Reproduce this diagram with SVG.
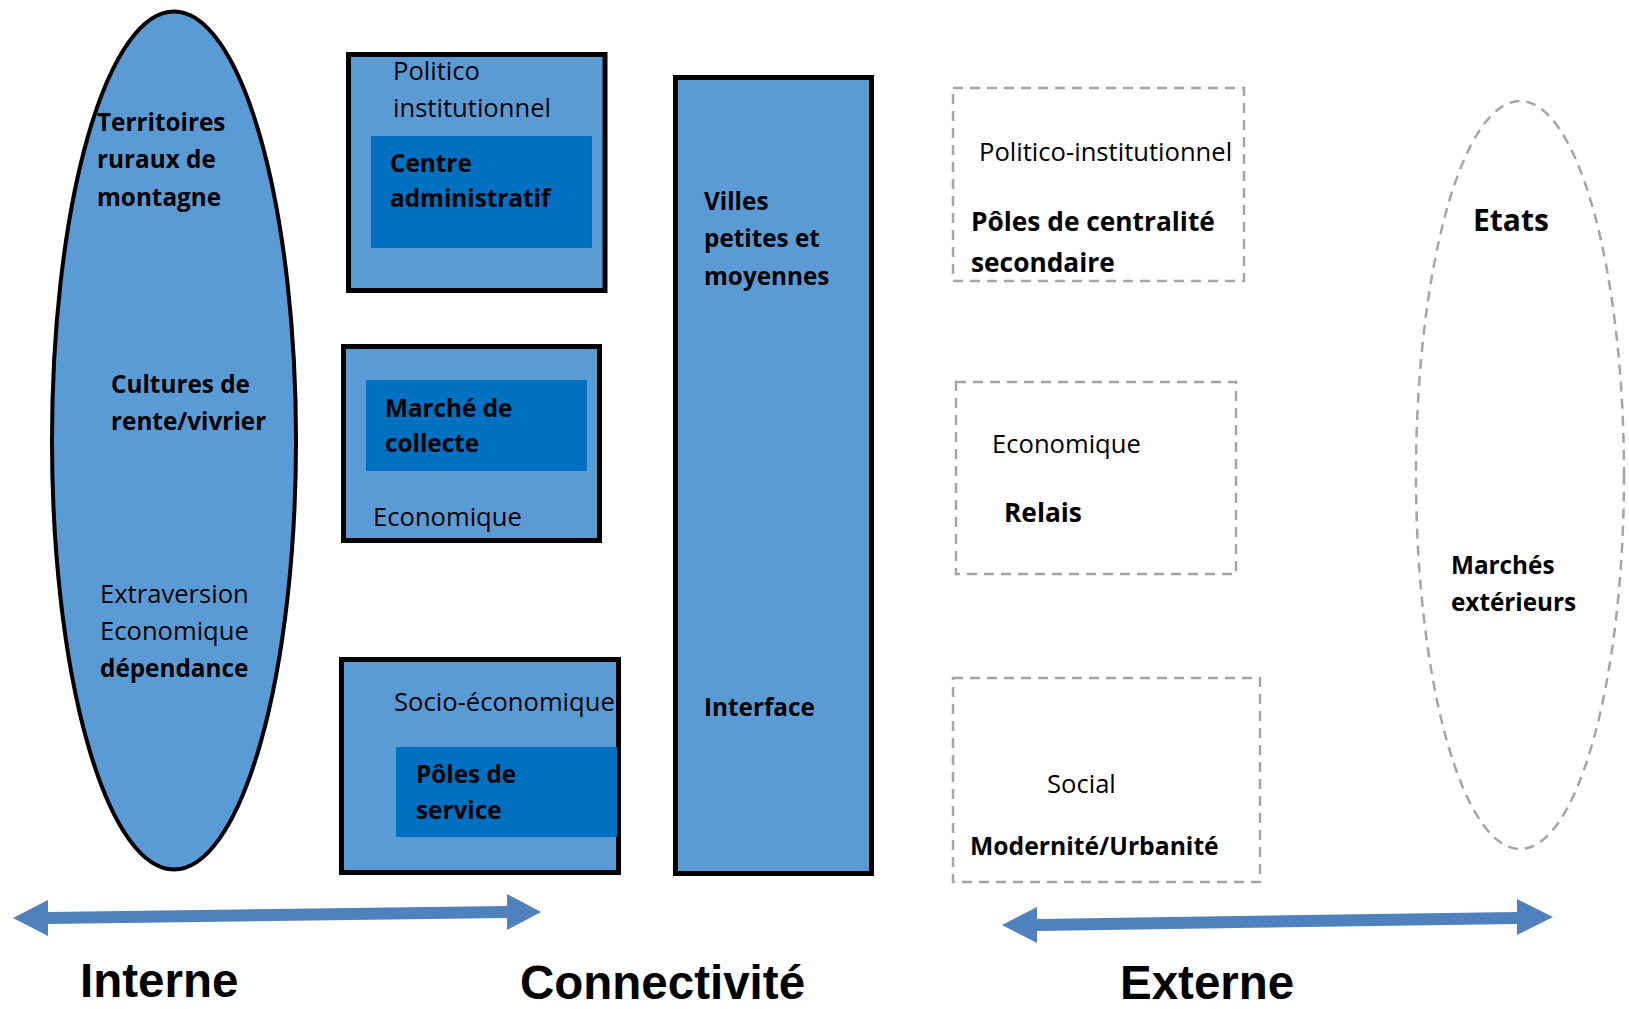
<svg xmlns="http://www.w3.org/2000/svg" width="1629" height="1009" viewBox="0 0 1629 1009">
<style>
.bg{fill:#ffffff}
.node{fill:#5B9BD5;stroke:#000000;stroke-width:5}
.ell{fill:#5B9BD5;stroke:#000000;stroke-width:4}
.inner{fill:#0070C0;stroke:none}
.dash{fill:none;stroke:#A5A5A5;stroke-width:2.5;stroke-dasharray:10 7}
.arrow{fill:#4F81BD;stroke:none}
.r{font-family:"Open Sans","Noto Sans",sans-serif;font-size:25.6px;fill:#000}
.b{font-family:"Open Sans","Noto Sans",sans-serif;font-size:24.3px;font-weight:bold;fill:#000}
.big{font-family:"Liberation Sans",Arial,sans-serif;font-size:47.5px;font-weight:bold;fill:#000}
</style>
<rect class="bg" x="0" y="0" width="1629" height="1009"/>

<g id="interne-ellipse">
<ellipse class="ell" cx="174" cy="440.5" rx="122" ry="429"/>
<text class="b" x="97" y="131">Territoires</text>
<text class="b" x="97" y="168">ruraux de</text>
<text class="b" x="97" y="206">montagne</text>
<text class="b" x="111" y="393">Cultures de</text>
<text class="b" x="111" y="430">rente/vivrier</text>
<text class="r" x="100" y="603">Extraversion</text>
<text class="r" x="100" y="640">Economique</text>
<text class="b" x="100" y="677">dépendance</text>
</g>

<g id="box-politico">
<rect class="node" x="348.5" y="54.5" width="256.5" height="236"/>
<rect class="inner" x="371" y="136" width="221" height="112"/>
<text class="r" x="393" y="80">Politico</text>
<text class="r" x="393" y="117">institutionnel</text>
<text class="b" x="390" y="172">Centre</text>
<text class="b" x="390" y="207">administratif</text>
</g>

<g id="box-economique">
<rect class="node" x="343.5" y="346.5" width="256" height="194"/>
<rect class="inner" x="366" y="380" width="221" height="91"/>
<text class="b" x="385" y="417">Marché de</text>
<text class="b" x="385" y="452">collecte</text>
<text class="r" x="373" y="526">Economique</text>
</g>

<g id="box-socio">
<rect class="node" x="341.5" y="659.5" width="277" height="213"/>
<rect class="inner" x="396" y="747" width="221" height="90"/>
<text class="r" x="394" y="711">Socio-économique</text>
<text class="b" x="416" y="783">Pôles de</text>
<text class="b" x="416" y="819">service</text>
</g>

<g id="box-villes">
<rect class="node" x="675.5" y="77.5" width="196" height="796"/>
<text class="b" x="704" y="210">Villes</text>
<text class="b" x="704" y="247">petites et</text>
<text class="b" x="704" y="285">moyennes</text>
<text class="b" x="704" y="716">Interface</text>
</g>

<g id="ext-politico">
<rect class="dash" x="953" y="88" width="291" height="193"/>
<text class="r" x="979" y="161">Politico-institutionnel</text>
<text class="b" x="971" y="231" style="font-size:26.3px">Pôles de centralité</text>
<text class="b" x="971" y="272" style="font-size:26.3px">secondaire</text>
</g>

<g id="ext-economique">
<rect class="dash" x="956" y="382" width="280" height="192"/>
<text class="r" x="992" y="453">Economique</text>
<text class="b" x="1004" y="522" style="font-size:26.3px">Relais</text>
</g>

<g id="ext-social">
<rect class="dash" x="953" y="678" width="307" height="204"/>
<text class="r" x="1047" y="793">Social</text>
<text class="b" x="970" y="855" style="font-size:24.7px">Modernité/Urbanité</text>
</g>

<g id="ext-ellipse">
<ellipse class="dash" cx="1520" cy="475" rx="104" ry="374"/>
<text class="b" x="1473" y="231" style="font-size:30px">Etats</text>
<text class="b" x="1451" y="574">Marchés</text>
<text class="b" x="1451" y="611">extérieurs</text>
</g>

<g id="connectors">
<polygon class="arrow" points="13,918 48,900 48,912 507,906 507,894 541,912 507,930 507,918 48,924 48,936"/>
<polygon class="arrow" points="1002,925 1037,907 1037,919 1517,912 1517,899 1553,917 1517,935 1517,924 1037,931 1037,943"/>
</g>

<g id="axis-labels">
<text class="big" x="80" y="997">Interne</text>
<text class="big" x="520" y="999">Connectivité</text>
<text class="big" x="1120" y="999">Externe</text>
</g>
</svg>
